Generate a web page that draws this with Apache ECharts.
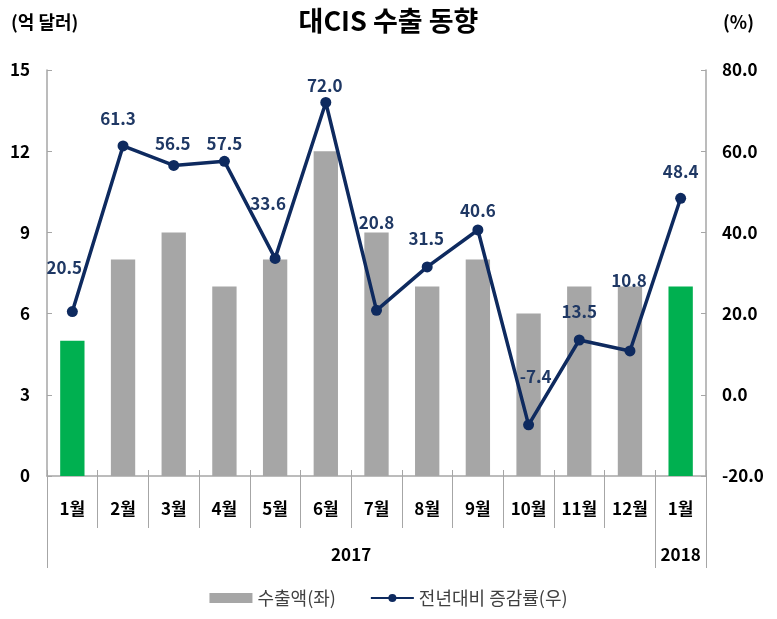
<!DOCTYPE html>
<html>
<head>
<meta charset="utf-8">
<script src="https://cdn.jsdelivr.net/npm/echarts@6/dist/echarts.min.js"></script>
<style>html,body{margin:0;padding:0;background:#fff}#c{width:777px;height:619px}</style>
</head>
<body>
<div id="c"></div>
<script>
var months = ['1월','2월','3월','4월','5월','6월','7월','8월','9월','10월','11월','12월','1월'];
var exports = [5, 8, 9, 7, 8, 12, 9, 7, 8, 6, 7, 7, 7];
var growth = [20.5, 61.3, 56.5, 57.5, 33.6, 72.0, 20.8, 31.5, 40.6, -7.4, 13.5, 10.8, 48.4];
var years = ['2017', '2018'];
var yearSpans = [12, 1];
var leftTicks = [0, 15, 3];
var rightTicks = [-20, 80, 20];
var highlightIdx = [0, 12];

// label offsets (style only)
var labelOffsets = [[-8,-44],[-5,-27],[-1,-22],[0,-18],[-7,-55],[-1,-17],[0,-88],[-1,-28],[0,-19],[7,-48],[0,-28],[-1,-70],[0,-27]];

var FONT = '"Noto Sans CJK KR", "Noto Sans", sans-serif';
var NAVY = '#0E2A5F';
var AXIS = '#A6A6A6';

var yearBounds = [0], yearCenters = [], acc = 0;
yearSpans.forEach(function(s){ yearCenters.push(acc + s/2); acc += s; yearBounds.push(acc); });

var chart = echarts.init(document.getElementById('c'));
chart.setOption({
  animation: false,
  backgroundColor: '#fff',
  title: [
    {text: '대CIS 수출 동향', left: 'center', top: 2, textStyle: {fontFamily: FONT, fontSize: 27, fontWeight: 'bold', color: '#000'}},
    {text: '(억 달러)', left: 6, top: 8, textStyle: {fontFamily: FONT, fontSize: 18, fontWeight: 'bold', color: '#000'}},
    {text: '(%)', right: 18, top: 8, textStyle: {fontFamily: FONT, fontSize: 18, fontWeight: 'bold', color: '#000'}}
  ],
  grid: [
    {left: 47, right: 71, top: 70, bottom: 143, containLabel: false},
    {left: 47, right: 71, top: 476, height: 52, containLabel: false},
    {left: 47, right: 71, top: 476, height: 92, containLabel: false}
  ],
  legend: {
    bottom: 7, left: 'center', itemWidth: 43, itemHeight: 10, itemGap: 34,
    textStyle: {fontFamily: FONT, fontSize: 18, color: '#404040'},
    data: [
      {name: '수출액(좌)', icon: 'rect', itemStyle: {color: '#A6A6A6'}},
      {name: '전년대비 증감률(우)'}
    ]
  },
  xAxis: [
    {
      gridIndex: 0, type: 'category', data: months, position: 'bottom',
      axisLine: {show: true, lineStyle: {color: AXIS, width: 1.5}},
      axisTick: {show: true, inside: true, interval: 0, length: 6, lineStyle: {color: AXIS, width: 1}},
      axisLabel: {interval: 0, margin: 24, fontFamily: FONT, fontSize: 17, fontWeight: 'bold', color: '#000'},
      splitLine: {show: false}
    },
    {
      gridIndex: 1, type: 'category', data: months, position: 'bottom',
      axisLine: {show: false}, axisTick: {show: false}, axisLabel: {show: false},
      splitLine: {show: true, interval: 0, lineStyle: {color: AXIS, width: 1}}
    },
    {
      gridIndex: 2, type: 'value', min: 0, max: acc, position: 'bottom',
      axisLine: {show: false},
      axisTick: {show: false, customValues: yearBounds},
      axisLabel: {
        customValues: yearCenters, inside: true, margin: 5, fontFamily: FONT, fontSize: 17, fontWeight: 'bold', color: '#000',
        formatter: function(v){ var i = yearCenters.indexOf(v); return i >= 0 ? years[i] : ''; }
      },
      splitLine: {show: true, showMinLine: true, showMaxLine: true, lineStyle: {color: AXIS, width: 1}}
    }
  ],
  yAxis: [
    {
      gridIndex: 0, type: 'value', min: leftTicks[0], max: leftTicks[1], interval: leftTicks[2], position: 'left',
      axisLine: {show: true, lineStyle: {color: AXIS, width: 1.5}},
      axisTick: {show: true, inside: true, length: 5, lineStyle: {color: AXIS}},
      axisLabel: {margin: 17, fontFamily: FONT, fontSize: 17, fontWeight: 'bold', color: '#000'},
      splitLine: {show: false}
    },
    {
      gridIndex: 0, type: 'value', min: rightTicks[0], max: rightTicks[1], interval: rightTicks[2], position: 'right',
      axisLine: {show: true, lineStyle: {color: AXIS, width: 1.5}},
      axisTick: {show: true, inside: true, length: 5, lineStyle: {color: AXIS}},
      axisLabel: {margin: 16, fontFamily: FONT, fontSize: 17, fontWeight: 'bold', color: '#000',
        formatter: function(v){ return v.toFixed(1); }},
      splitLine: {show: false}
    },
    {gridIndex: 1, type: 'value', show: false, splitLine: {show: false}},
    {gridIndex: 2, type: 'value', show: false, splitLine: {show: false}}
  ],
  series: [
    {
      name: '수출액(좌)', type: 'bar', xAxisIndex: 0, yAxisIndex: 0, barWidth: '48%',
      data: exports,
      itemStyle: {color: function(p){ return highlightIdx.indexOf(p.dataIndex) >= 0 ? '#00B050' : '#A6A6A6'; }}
    },
    {
      name: '전년대비 증감률(우)', type: 'line', xAxisIndex: 0, yAxisIndex: 1,
      symbol: 'circle', symbolSize: 11,
      lineStyle: {color: NAVY, width: 3.5},
      itemStyle: {color: NAVY},
      data: growth.map(function(v, i){
        return {value: v, label: {offset: labelOffsets[i]}};
      }),
      label: {show: true, position: 'inside', fontFamily: FONT, fontSize: 17, fontWeight: 'bold', color: '#1F3864',
        formatter: function(p){ return p.value.toFixed(1); }},
      z: 5
    }
  ]
});
</script>
</body>
</html>
